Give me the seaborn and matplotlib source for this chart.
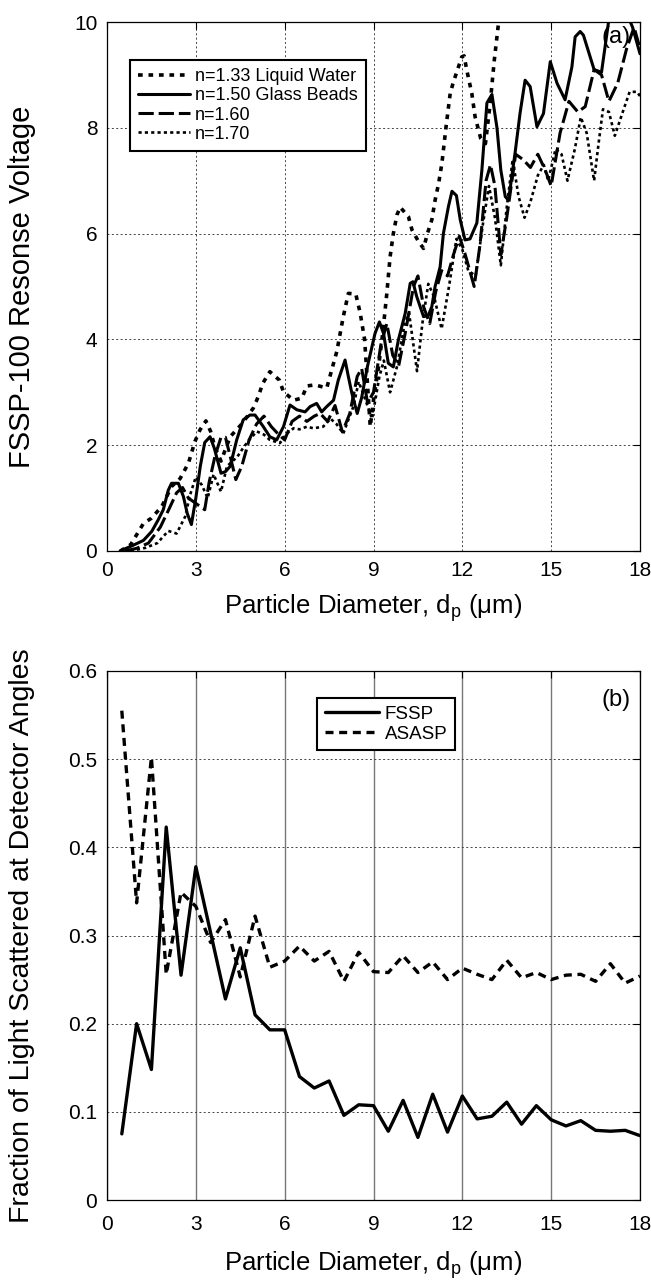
import matplotlib
matplotlib.use("Agg")
import matplotlib.pyplot as plt
import seaborn as sns
import pandas as pd

# ---------------- Panel (a) data: FSSP-100 response voltage ----------------
d133 = [0.45, 0.8, 1.23, 1.5, 1.85, 2.18, 2.47, 2.75, 2.97, 3.14, 3.34, 3.5, 3.65, 3.85, 4.16,
        4.55, 4.94, 5.11, 5.26, 5.5, 5.82, 5.96, 6.3, 6.58, 6.75, 7.03, 7.42, 7.76, 7.98, 8.15,
        8.4, 8.55, 8.7, 8.89, 9.0, 9.17, 9.31, 9.45, 9.56, 9.67, 9.79, 9.9, 10.18, 10.3, 10.52,
        10.69, 10.82, 10.97, 11.08, 11.2, 11.31, 11.45, 11.59, 11.7, 11.84, 11.98, 12.06, 12.15,
        12.32, 12.43, 12.62, 12.78, 12.94, 13.08, 13.22, 13.4]
v133 = [0.0, 0.12, 0.52, 0.62, 0.84, 1.22, 1.37, 1.66, 2.07, 2.29, 2.46, 2.26, 1.95, 1.7, 2.16,
        2.4, 2.7, 2.92, 3.17, 3.39, 3.23, 3.01, 2.85, 2.89, 3.12, 3.14, 3.08, 3.77, 4.43, 4.87,
        4.86, 4.5, 4.0, 2.35, 2.85, 3.48, 4.11, 4.87, 5.56, 6.0, 6.35, 6.5, 6.32, 6.07, 5.85,
        5.72, 6.0, 6.26, 6.63, 6.95, 7.33, 8.02, 8.65, 8.87, 9.1, 9.34, 9.36, 9.09,
        8.65, 8.21, 7.8, 7.7, 8.46, 9.28, 9.97, 10.6]

d150 = [0.44, 0.89, 1.23, 1.51, 1.73, 1.9, 2.07, 2.18, 2.41, 2.58, 2.71, 2.85, 3.0, 3.15, 3.3,
        3.48, 3.62, 3.85, 4.0, 4.16, 4.38, 4.6, 4.83, 5.0, 5.28, 5.5, 5.73, 5.96, 6.18, 6.41,
        6.69, 6.86, 7.08, 7.25, 7.42, 7.65, 7.81, 8.04, 8.15, 8.27, 8.45, 8.6, 8.8, 9.05, 9.2,
        9.34, 9.5, 9.67, 9.84, 10.07, 10.24, 10.33, 10.46, 10.69, 10.85, 10.97, 11.08, 11.25,
        11.36, 11.53, 11.65, 11.8, 11.93, 12.09, 12.26, 12.49, 12.66, 12.83, 13.0, 13.17, 13.3,
        13.45, 13.56, 13.78, 13.95, 14.12, 14.29, 14.52, 14.74, 14.97, 15.2, 15.47, 15.7, 15.81,
        15.98, 16.09, 16.45, 16.7, 16.95, 17.2, 17.6, 17.75, 18.0]
v150 = [0.0, 0.11, 0.2, 0.37, 0.59, 0.78, 1.15, 1.28, 1.28, 1.03, 0.71, 0.5, 1.0, 1.6, 2.05,
        2.16, 1.95, 1.47, 1.5, 1.6, 2.1, 2.48, 2.57, 2.57, 2.35, 2.16, 2.1, 2.35, 2.76, 2.67,
        2.63, 2.73, 2.79, 2.63, 2.73, 2.85, 3.23, 3.61, 3.3, 2.98, 2.6, 2.9, 3.5, 4.11, 4.33,
        4.11, 3.55, 3.48, 3.99, 4.49, 5.06, 5.09, 4.81, 4.43, 4.45, 4.62, 5.0, 5.37,
        6.0, 6.51, 6.8, 6.72, 6.26, 5.88, 5.9, 6.2, 7.2, 8.47, 8.63, 8.0, 7.2,
        6.7, 6.63, 7.52, 8.28, 8.9, 8.78, 8.02, 8.27, 9.25, 8.84, 8.53, 9.15, 9.72,
        9.82, 9.75, 9.1, 9.05, 10.05, 10.3, 10.1, 9.9, 9.4]

d160 = [0.6, 1.0, 1.4, 1.8, 2.1, 2.35, 2.55, 2.75, 3.0, 3.3, 3.45, 3.65, 3.85, 4.0, 4.2, 4.35,
        4.55, 4.8, 5.05, 5.3, 5.55, 5.8, 6.0, 6.25, 6.5, 6.75, 7.0, 7.2, 7.45, 7.7, 7.95, 8.2,
        8.45, 8.6, 8.8, 9.0, 9.25, 9.45, 9.65, 9.85, 10.1, 10.35, 10.5, 10.7, 10.9, 11.1, 11.3,
        11.5, 11.7, 11.9, 12.1, 12.4, 12.6, 12.8, 12.95, 13.1, 13.3, 13.5, 13.8, 14.05, 14.3,
        14.55, 14.8, 15.0, 15.3, 15.6, 15.9, 16.15, 16.45, 16.7, 16.95, 17.25, 17.55, 17.8, 18.0]
v160 = [0.0, 0.05, 0.15, 0.45, 0.8, 1.1, 1.2, 1.0, 0.9, 0.78, 1.3, 1.8, 2.15, 2.15, 1.7, 1.35,
        1.6, 2.1, 2.4, 2.55, 2.35, 2.2, 2.1, 2.45, 2.55, 2.45, 2.55, 2.6, 2.45, 2.75, 2.25, 2.6,
        3.3, 3.45, 2.8, 3.0, 3.9, 4.3, 3.7, 3.5, 4.2, 5.0, 5.2, 4.6, 4.3, 4.9, 5.3,
        5.2, 5.6, 5.95, 5.6, 5.0, 5.8, 7.0, 7.3, 6.9, 5.6, 6.3, 7.5, 7.4, 7.25,
        7.5, 7.2, 6.9, 7.9, 8.5, 8.3, 8.4, 9.1, 9.0, 8.5, 8.85, 9.5, 9.9, 9.5]

d170 = [0.8, 1.3, 1.7, 2.07, 2.35, 2.64, 2.8, 3.0, 3.2, 3.4, 3.6, 3.85, 4.05, 4.4, 4.6, 4.8,
        5.06, 5.3, 5.5, 5.84, 6.07, 6.3, 6.5, 6.75, 6.97, 7.3, 7.55, 7.75, 7.98, 8.15, 8.32,
        8.5, 8.7, 8.95, 9.2, 9.35, 9.56, 9.8, 10.05, 10.2, 10.47, 10.65, 10.85, 11.05, 11.3,
        11.55, 11.8, 12.0, 12.2, 12.45, 12.7, 12.9, 13.1, 13.3, 13.5, 13.7, 13.9, 14.1, 14.3,
        14.55, 14.75, 14.9, 15.15, 15.35, 15.55, 15.8, 16.0, 16.2, 16.45, 16.6, 16.75, 16.95,
        17.15, 17.4, 17.65, 17.9, 18.0]
v170 = [0.0, 0.06, 0.15, 0.38, 0.33, 0.65, 1.05, 1.4, 1.25, 1.0, 1.45, 1.12, 1.6, 1.78, 1.95,
        2.1, 2.26, 2.2, 2.1, 2.04, 2.22, 2.32, 2.3, 2.35, 2.32, 2.35, 2.5, 2.4, 2.22, 2.48,
        2.73, 3.2, 2.9, 2.5, 3.3, 3.6, 3.0, 3.5, 4.3, 4.5, 3.4, 4.3, 5.05, 4.8, 4.2,
        5.0, 5.9, 5.7, 5.3, 5.2, 6.2, 6.9, 6.3, 5.4, 6.5, 7.4, 6.7, 6.3, 6.6,
        7.1, 7.3, 7.0, 7.6, 7.5, 7.0, 7.6, 8.2, 7.9, 7.0, 7.7, 8.35, 8.3,
        7.85, 8.27, 8.68, 8.68, 8.6]

labels_a = ["n=1.33 Liquid Water", "n=1.50 Glass Beads", "n=1.60", "n=1.70"]

# ---------------- Panel (b) data: fraction of scattered light ----------------
d_b = [0.5, 1.0, 1.5, 2.0, 2.5, 3.0, 3.5, 4.0, 4.5, 5.0, 5.5, 6.0, 6.5, 7.0, 7.5, 8.0, 8.5, 9.0,
       9.5, 10.0, 10.5, 11.0, 11.5, 12.0, 12.5, 13.0, 13.5, 14.0, 14.5, 15.0, 15.5, 16.0, 16.5,
       17.0, 17.5, 18.0]
fssp = [0.075, 0.20, 0.148, 0.423, 0.255, 0.378, 0.303, 0.228, 0.286, 0.21, 0.193, 0.193, 0.14,
        0.127, 0.135, 0.096, 0.108, 0.107, 0.078, 0.113, 0.071, 0.12, 0.077, 0.118, 0.092, 0.095,
        0.111, 0.086, 0.107, 0.091, 0.084, 0.090, 0.079, 0.078, 0.079, 0.073]
asasp = [0.555, 0.337, 0.502, 0.256, 0.349, 0.333, 0.292, 0.318, 0.253, 0.322, 0.264, 0.271,
         0.288, 0.271, 0.282, 0.248, 0.281, 0.259, 0.258, 0.277, 0.258, 0.27, 0.25, 0.263, 0.256,
         0.25, 0.272, 0.252, 0.258, 0.25, 0.255, 0.256, 0.248, 0.268, 0.246, 0.254]
labels_b = ["FSSP", "ASASP"]

xticks = [0, 3, 6, 9, 12, 15, 18]
yticks_a = [0, 2, 4, 6, 8, 10]
yticks_b = [0, 0.1, 0.2, 0.3, 0.4, 0.5, 0.6]

# ---------------- styling ----------------
sns.set_theme(style="white")
plt.rcParams["font.family"] = ["Liberation Sans", "DejaVu Sans"]
plt.rcParams["mathtext.fontset"] = "custom"
plt.rcParams["mathtext.rm"] = "Liberation Sans"
plt.rcParams["mathtext.it"] = "Liberation Sans"
plt.rcParams["axes.edgecolor"] = "black"
plt.rcParams["axes.linewidth"] = 0.9
plt.rcParams["text.color"] = "black"
plt.rcParams["axes.labelcolor"] = "black"

W, H = 651, 1286
fig = plt.figure(figsize=(W / 100, H / 100), dpi=100)
ax1 = fig.add_axes([107 / W, 1 - 551 / H, 533 / W, 529 / H])
ax2 = fig.add_axes([107 / W, 1 - 1200 / H, 533 / W, 529 / H])

xlabel = r"Particle Diameter, d$_\mathregular{p}$ ($\mathregular{\mu}$m)"

# ---- panel (a)
styles_a = [
    dict(linestyle=(0, (1.3, 1.6)), linewidth=2.6, dash_capstyle="butt"),
    dict(linestyle="-", linewidth=2.2),
    dict(linestyle=(0, (5.0, 1.6)), linewidth=2.2, dash_capstyle="butt"),
    dict(linestyle=(0, (1.2, 1.2)), linewidth=1.9, dash_capstyle="butt"),
]
series_a = [(d133, v133), (d150, v150), (d160, v160), (d170, v170)]
for (xs, ys), lab, st in zip(series_a, labels_a, styles_a):
    df = pd.DataFrame({"d": xs, "v": ys})
    sns.lineplot(data=df, x="d", y="v", ax=ax1, color="black", label=lab,
                 sort=False, estimator=None, **st)

ax1.set_xlim(0, 18)
ax1.set_ylim(0, 10)
ax1.set_xticks(xticks)
ax1.set_yticks(yticks_a)
ax1.set_xticklabels([str(t) for t in xticks])
ax1.set_yticklabels([str(t) for t in yticks_a])
ax1.grid(True, color="#444444", linestyle=(0, (2, 2.5)), linewidth=0.7)
ax1.set_axisbelow(True)
ax1.set_xlabel(xlabel, fontsize=18.5, va="center")
ax1.set_ylabel("FSSP-100 Resonse Voltage", fontsize=21, va="center")
ax1.xaxis.set_label_coords(0.5, (551 - 608) / 529)
ax1.yaxis.set_label_coords((22 - 107) / 533, 0.5)
ax1.text(0.955, 0.972, "(a)", transform=ax1.transAxes, fontsize=17, ha="center", va="center")
leg1 = ax1.legend(loc="upper left", bbox_to_anchor=(0.043, 0.928), borderaxespad=0,
                  fontsize=13, handlelength=2.9, handletextpad=0.25, labelspacing=0.12,
                  borderpad=0.45, frameon=True, fancybox=False, framealpha=1,
                  edgecolor="black")
leg1.get_frame().set_linewidth(1.5)

# ---- panel (b)
df_b = pd.DataFrame({"d": d_b, "FSSP": fssp, "ASASP": asasp})
sns.lineplot(data=df_b, x="d", y="FSSP", ax=ax2, color="black", label=labels_b[0],
             linestyle="-", linewidth=2.4)
sns.lineplot(data=df_b, x="d", y="ASASP", ax=ax2, color="black", label=labels_b[1],
             linestyle=(0, (2.4, 1.7)), linewidth=2.4, dash_capstyle="butt")
ax2.set_xlim(0, 18)
ax2.set_ylim(0, 0.6)
ax2.set_xticks(xticks)
ax2.set_yticks(yticks_b)
ax2.set_xticklabels([str(t) for t in xticks])
ax2.set_yticklabels(["0" if t == 0 else f"{t:.1f}" for t in yticks_b])
ax2.xaxis.grid(True, color="#777777", linestyle="-", linewidth=1.0)
ax2.yaxis.grid(True, color="#444444", linestyle=(0, (2, 2.5)), linewidth=0.7)
ax2.set_axisbelow(True)
ax2.set_xlabel(xlabel, fontsize=18.5, va="center")
ax2.set_ylabel("Fraction of Light Scattered at Detector Angles", fontsize=20.5, va="center")
ax2.xaxis.set_label_coords(0.5, (1200 - 1265) / 529)
ax2.yaxis.set_label_coords((22 - 107) / 533, 0.5)
ax2.text(0.955, 0.945, "(b)", transform=ax2.transAxes, fontsize=17, ha="center", va="center")
leg2 = ax2.legend(loc="upper left", bbox_to_anchor=(0.394, 0.949), borderaxespad=0,
                  fontsize=13.5, handlelength=2.9, handletextpad=0.3, labelspacing=0.15,
                  borderpad=0.4, frameon=True, fancybox=False, framealpha=1,
                  edgecolor="black")
leg2.get_frame().set_linewidth(1.5)

for ax in (ax1, ax2):
    ax.tick_params(direction="in", top=True, right=True, length=5, width=0.8,
                   labelsize=15, colors="black", pad=7)
    for s in ax.spines.values():
        s.set_visible(True)
        s.set_color("black")
ax2.tick_params(axis="x", pad=11)

fig.savefig("out.png", dpi=100)
